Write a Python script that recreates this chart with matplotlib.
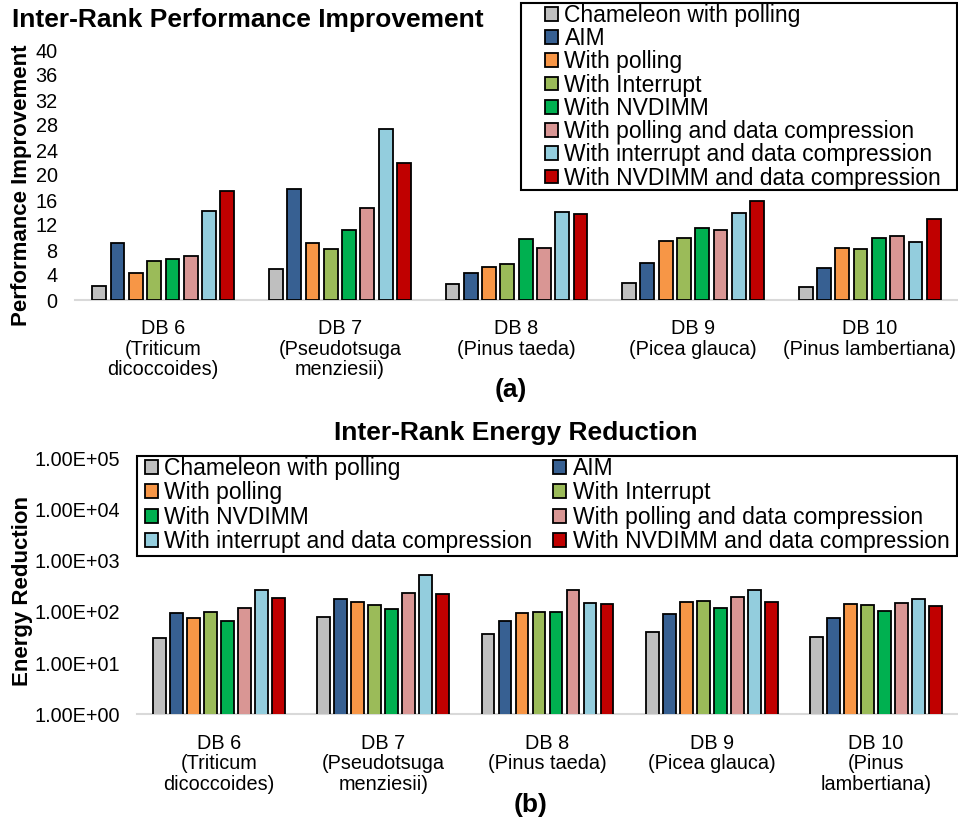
import numpy as np
import matplotlib.pyplot as plt
from matplotlib.patches import Rectangle

plt.rcParams['font.family'] = ['Liberation Sans', 'DejaVu Sans']

series = ["Chameleon with polling", "AIM", "With polling", "With Interrupt",
          "With NVDIMM", "With polling and data compression",
          "With interrupt and data compression", "With NVDIMM and data compression"]
colors = ["#BFBFBF", "#376092", "#F79646", "#9BBB59", "#00B050", "#D99694", "#93CDDD", "#C00000"]

labels_a = ["DB 6\n(Triticum\ndicoccoides)", "DB 7\n(Pseudotsuga\nmenziesii)",
            "DB 8\n(Pinus taeda)", "DB 9\n(Picea glauca)", "DB 10\n(Pinus lambertiana)"]
labels_b = ["DB 6\n(Triticum\ndicoccoides)", "DB 7\n(Pseudotsuga\nmenziesii)",
            "DB 8\n(Pinus taeda)", "DB 9\n(Picea glauca)", "DB 10\n(Pinus\nlambertiana)"]

# performance improvement, one row per series, columns DB6..DB10
perf = [
    [2.3, 5.0, 2.6, 2.7, 2.1],
    [9.1, 17.8, 4.4, 6.0, 5.2],
    [4.4, 9.1, 5.3, 9.4, 8.4],
    [6.2, 8.2, 5.7, 9.9, 8.1],
    [6.5, 11.2, 9.7, 11.5, 9.9],
    [7.0, 14.8, 8.3, 11.2, 10.2],
    [14.2, 27.3, 14.1, 13.9, 9.3],
    [17.5, 22.0, 13.7, 15.8, 12.9],
]

# energy reduction (log scale)
energy = [
    [30.5, 78, 37.6, 40.6, 31.9],
    [95, 176, 66.5, 90, 76],
    [77, 154, 95, 159, 141],
    [101, 139, 99.5, 164, 137],
    [67.5, 116, 101, 119, 103],
    [121, 238, 272, 193, 149],
    [264, 519, 147, 272, 182],
    [187, 221, 141, 159, 133],
]

fig = plt.figure(figsize=(9.58, 8.25), dpi=100)
W, H = 958, 825


def fx(px):
    return px / W


def fy(py):
    return 1 - py / H


ax1 = fig.add_axes([fx(75), fy(300), 883 / W, 250 / H])
ax2 = fig.add_axes([fx(137), fy(714.3), 821 / W, 256 / H])

x = np.arange(5)
pitch = 0.1036
width = 0.078

for ax, data in ((ax1, perf), (ax2, energy)):
    for i, (name, vals) in enumerate(zip(series, data)):
        ax.bar(x + (i - 3.5) * pitch, vals, width, color=colors[i],
               edgecolor='black', linewidth=1.3, label=name, zorder=3)
    ax.set_xlim(-0.5, 4.5)
    for s in ['top', 'right', 'left']:
        ax.spines[s].set_visible(False)
    ax.spines['bottom'].set_color('#D9D9D9')
    ax.spines['bottom'].set_linewidth(1.5)
    ax.tick_params(length=0, labelsize=14.3)
    ax.tick_params(axis='y', pad=12.5)
    ax.tick_params(axis='x', pad=14)
    ax.set_xticks(x)

ax1.set_ylim(0, 40)
ax1.set_yticks(np.arange(0, 41, 4))
ax1.set_xticklabels(labels_a, fontsize=14.3, linespacing=1.1)

ax2.set_yscale('log')
ax2.set_ylim(1, 1e5)
ax2.set_yticks([1, 10, 100, 1e3, 1e4, 1e5])
ax2.set_yticklabels(["1.00E+00", "1.00E+01", "1.00E+02", "1.00E+03", "1.00E+04", "1.00E+05"])
ax2.minorticks_off()
ax2.set_xticklabels(labels_b, fontsize=14.3, linespacing=1.1)

# axis titles, placed by hand so they sit where the tick labels leave room
fig.text(fx(22), fy(185), "Performance Improvement", fontsize=16,
         fontweight='bold', rotation=90, ha='center', va='center')
fig.text(fx(23), fy(591), "Energy Reduction", fontsize=16,
         fontweight='bold', rotation=90, ha='center', va='center')

fig.text(fx(12), fy(20), "Inter-Rank Performance Improvement", fontsize=19,
         fontweight='bold', ha='left', va='center')
fig.text(fx(516), fy(433), "Inter-Rank Energy Reduction", fontsize=19,
         fontweight='bold', ha='center', va='center')
fig.text(fx(511), fy(390), "(a)", fontsize=19, fontweight='bold', ha='center', va='center')
fig.text(fx(531), fy(805), "(b)", fontsize=19, fontweight='bold', ha='center', va='center')

leg_kw = dict(bbox_transform=fig.transFigure, fontsize=16.5, frameon=False,
              handlelength=0.55, handleheight=0.55, handletextpad=0.3,
              borderpad=0, borderaxespad=0)

h, l = ax1.get_legend_handles_labels()
ax1.legend(h, l, loc='upper left', bbox_to_anchor=(fx(545), fy(4)),
           labelspacing=0.01, **leg_kw)

h, l = ax2.get_legend_handles_labels()
order = [0, 2, 4, 6, 1, 3, 5, 7]
ax2.legend([h[k] for k in order], [l[k] for k in order], ncol=2,
           loc='upper left', bbox_to_anchor=(fx(145), fy(457)),
           labelspacing=0.06, columnspacing=0.9, **leg_kw)

# legend boxes
for x0, y0, x1, y1 in ((521, 3, 957, 190), (137, 456, 957, 556)):
    fig.patches.append(Rectangle((fx(x0), fy(y1)), (x1 - x0) / W, (y1 - y0) / H,
                                 transform=fig.transFigure, fill=False,
                                 edgecolor='black', linewidth=1.5, zorder=5))

fig.savefig("out.png", dpi=100)
